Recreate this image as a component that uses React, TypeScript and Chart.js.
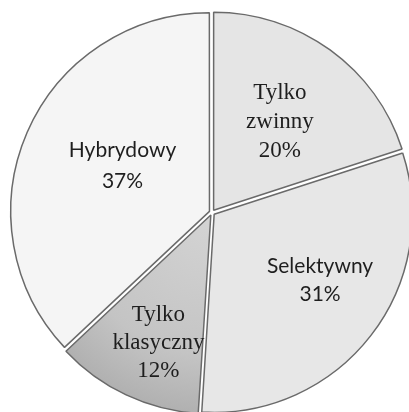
import React, { useEffect, useRef } from "react";
import { Chart, registerables } from "chart.js";

Chart.register(...registerables);

const categories = ["Tylko zwinny", "Selektywny", "Tylko klasyczny", "Hybrydowy"];
const values = [20, 31, 12, 37];
const percentLabels = ["20%", "31%", "12%", "37%"];

const fills = ["#e5e5e5", "#e7e7e7", "#c3c3c3", "#f5f5f5"];
const labelFonts = [
  "23px 'Liberation Serif', serif",
  "21px Lato, 'Liberation Sans', sans-serif",
  "23px 'Liberation Serif', serif",
  "21px Lato, 'Liberation Sans', sans-serif",
];
const labelRadial = [0.57, 0.645, 0.71, 0.51];
const labelTurnDeg = [1.0, -5.6, -2.8, 4.2];
const lineGaps = [29, 28, 28, 31];

const labelPlugin = {
  id: "sliceLabels",
  afterDatasetsDraw(chart: any) {
    const ctx = chart.ctx;
    const meta = chart.getDatasetMeta(0);
    meta.data.forEach((arc: any, i: number) => {
      const { x, y, startAngle, endAngle, outerRadius } = arc.getProps(
        ["x", "y", "startAngle", "endAngle", "outerRadius"],
        true
      );
      const mid = (startAngle + endAngle) / 2 + (labelTurnDeg[i] * Math.PI) / 180;
      const r = outerRadius * labelRadial[i];
      const cx = x + Math.cos(mid) * r;
      const cy = y + Math.sin(mid) * r;
      const lines = [...categories[i].split(" "), percentLabels[i]];
      const gap = lineGaps[i];
      ctx.save();
      ctx.font = labelFonts[i];
      ctx.fillStyle = "#1e1e1e";
      ctx.textAlign = "center";
      ctx.textBaseline = "middle";
      lines.forEach((t, k) => {
        ctx.fillText(t, cx, cy + (k - (lines.length - 1) / 2) * gap);
      });
      ctx.restore();
    });
  },
};

export default function App() {
  const ref = useRef<HTMLCanvasElement>(null);

  useEffect(() => {
    if (!ref.current) return;
    const chart = new Chart(ref.current, {
      type: "pie",
      data: {
        labels: categories,
        datasets: [
          {
            data: values,
            backgroundColor: (c: any) => {
              const i = c.dataIndex;
              if (i === 2 && c.chart.chartArea) {
                const a = c.chart.chartArea;
                const cx = (a.left + a.right) / 2;
                const cy = (a.top + a.bottom) / 2;
                const g = c.chart.ctx.createRadialGradient(cx, cy, 0, cx, cy, 200);
                g.addColorStop(0, "#d4d4d4");
                g.addColorStop(0.7, "#c4c4c4");
                g.addColorStop(1, "#b0b0b0");
                return g;
              }
              return fills[i];
            },
            borderColor: "#6a6a6a",
            borderWidth: 1.5,
            offset: 11,
            radius: 198,
          } as any,
        ],
      },
      options: {
        animation: false,
        responsive: false,
        layout: { padding: 0 },
        plugins: {
          legend: { display: false },
          tooltip: { enabled: false },
        },
      },
      plugins: [labelPlugin],
    });
    return () => chart.destroy();
  }, []);

  return (
    <div
      style={{
        position: "fixed",
        left: 0,
        top: 0,
        width: 409,
        height: 412,
        overflow: "hidden",
        background: "#fff",
      }}
    >
      <canvas ref={ref} width={424} height={425} style={{ display: "block" }} />
    </div>
  );
}
